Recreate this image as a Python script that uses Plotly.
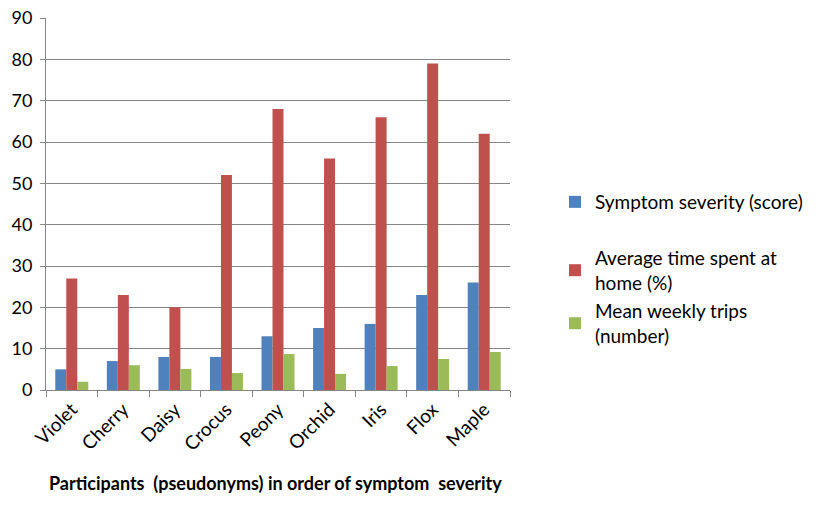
import plotly.graph_objects as go

participants = ["Violet", "Cherry", "Daisy", "Crocus", "Peony", "Orchid", "Iris", "Flox", "Maple"]
severity = [5, 7, 8, 8, 13, 15, 16, 23, 26]
time_home = [27, 23, 20, 52, 68, 56, 66, 79, 62]
weekly_trips = [2, 6, 5.1, 4.1, 8.7, 3.9, 5.8, 7.5, 9.2]

series_names = ["Symptom severity (score)", "Average time spent at<br>home (%)", "Mean weekly trips<br>(number)"]
colors = ["#4F81BD", "#C0504D", "#9BBB59"]
FONT = "Lato"

fig = go.Figure()
for i, (name, vals, col) in enumerate(zip(series_names, [severity, time_home, weekly_trips], colors)):
    fig.add_trace(go.Bar(
        x=participants, y=vals, name=name, marker=dict(color=col, line=dict(width=0)),
        legend="legend" if i == 0 else f"legend{i+1}", showlegend=True,
    ))

W, H = 816, 513
ml, mr, mt, mb = 46, 306, 18, 123
pw = W - ml - mr
ph = H - mt - mb
PLOT_L, PLOT_B = 46, 390  # pixel coordinates of plot area corner

def px_to_paper_x(px):
    return (px - PLOT_L) / pw

def px_to_paper_y(py):
    return (PLOT_B - py) / ph

legend_common = dict(font=dict(family=FONT, size=19, color="#000"), bgcolor="rgba(0,0,0,0)",
                     xanchor="left", yanchor="top", itemwidth=30, tracegroupgap=0, visible=True)

fig.update_layout(
    width=W, height=H,
    margin=dict(l=ml, r=mr, t=mt, b=mb, autoexpand=False),
    paper_bgcolor="white", plot_bgcolor="white",
    barmode="group", bargap=0.36, bargroupgap=0,
    showlegend=True,
    font=dict(family=FONT, size=18, color="#000"),
    legend=dict(x=px_to_paper_x(555), y=px_to_paper_y(183), **legend_common),
    legend2=dict(x=px_to_paper_x(555), y=px_to_paper_y(239), **legend_common),
    legend3=dict(x=px_to_paper_x(555), y=px_to_paper_y(292), **legend_common),
    xaxis=dict(
        type="category", showline=True, linecolor="#868686", linewidth=1,
        ticks="outside", tickson="boundaries", ticklen=6, tickcolor="#868686",
        tickangle=-45, tickfont=dict(family=FONT, size=19, color="#000"),
        showgrid=False, automargin=False, ticklabeloverflow="allow",
    ),
    yaxis=dict(
        range=[0, 90], dtick=10, showline=True, linecolor="#868686", linewidth=1,
        ticks="outside", ticklen=5, tickcolor="#868686", ticklabelstandoff=4,
        showgrid=True, gridcolor="#868686", gridwidth=1, ticklabeloverflow="allow",
        tickfont=dict(family=FONT, size=18, color="#000"), zeroline=False, automargin=False,
    ),
    annotations=[dict(
        text="<b>Participants  (pseudonyms) in order of symptom  severity</b>",
        xref="paper", yref="paper", x=px_to_paper_x(275), y=px_to_paper_y(483),
        xanchor="center", yanchor="middle", showarrow=False,
        font=dict(family=FONT, size=18, color="#000"),
    )],
)

fig.write_html("out.html", config={"displayModeBar": False},
               post_script="document.body.style.margin='0';")
